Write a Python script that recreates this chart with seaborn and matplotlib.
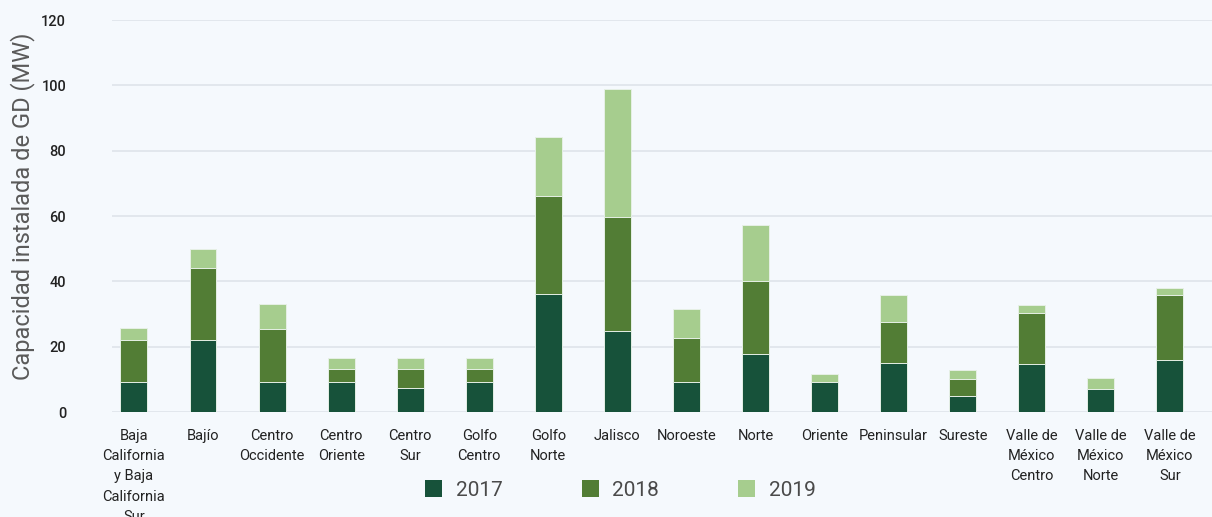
import matplotlib
matplotlib.use("Agg")
import matplotlib.pyplot as plt
from matplotlib.patches import Patch
import numpy as np
import pandas as pd
import seaborn as sns

regiones = [
    "Baja\nCalifornia\ny Baja\nCalifornia\nSur", "Bajío", "Centro\nOccidente",
    "Centro\nOriente", "Centro\nSur", "Golfo\nCentro", "Golfo\nNorte", "Jalisco",
    "Noroeste", "Norte", "Oriente", "Peninsular", "Sureste",
    "Valle de\nMéxico\nCentro", "Valle de\nMéxico\nNorte", "Valle de\nMéxico\nSur",
]
mw_2017 = [9.3, 22.1, 9.3, 9.3, 7.4, 9.3, 36.0, 24.8, 9.3, 17.8, 9.3, 15.1, 5.0, 14.8, 6.9, 15.9]
mw_2018 = [12.8, 21.9, 16.0, 3.9, 5.8, 3.9, 30.2, 35.0, 13.4, 22.4, 0.0, 12.5, 5.0, 15.4, 0.0, 19.8]
mw_2019 = [3.6, 6.0, 7.9, 3.3, 3.3, 3.3, 17.9, 39.0, 8.7, 16.9, 2.2, 8.1, 3.0, 2.7, 3.4, 2.3]
anios = ["2017", "2018", "2019"]
colores = ["#17523a", "#527d35", "#a6cd8e"]
yticks = [0, 20, 40, 60, 80, 100, 120]

df = pd.DataFrame({"region": regiones, "2017": mw_2017, "2018": mw_2018, "2019": mw_2019})
df["hasta_2018"] = df["2017"] + df["2018"]
df["hasta_2019"] = df["hasta_2018"] + df["2019"]

bg = "#f5f9fd"
sns.set_theme(style="white")
plt.rcParams["font.family"] = ["Roboto", "DejaVu Sans"]

fig = plt.figure(figsize=(12.12, 5.17), dpi=100, facecolor=bg)
ax = fig.add_axes([112 / 1212, 1 - 412 / 517, 1 - 112 / 1212, (412 - 20) / 517])
ax.set_facecolor(bg)

# stacked bars: cumulative totals drawn from the top segment down
for col, color in zip(["hasta_2019", "hasta_2018", "2017"], colores[::-1]):
    sns.barplot(data=df, x="region", y=col, color=color, width=0.39,
                edgecolor="#e6f0e6", linewidth=0.7, saturation=1, ax=ax, zorder=3)

ax.set_ylim(0, 120)
ax.set_xlim(-0.318, 15.61)
ax.set_yticks(yticks)
ax.set_yticklabels([str(v) for v in yticks])
ax.grid(axis="y", color="#dfe4ea", linewidth=1.2, zorder=0)
ax.set_axisbelow(True)
for s in ax.spines.values():
    s.set_visible(False)

ax.tick_params(axis="y", length=0, pad=33, labelsize=10.5, labelcolor="#222222")
ax.tick_params(axis="x", length=0, pad=12.5, labelsize=10.5, labelcolor="#222222")
for lab in ax.get_yticklabels():
    lab.set_fontweight("medium")
for lab in ax.get_xticklabels():
    lab.set_linespacing(1.55)
    lab.set_verticalalignment("top")

ax.set_xlabel("")
ax.set_ylabel("Capacidad instalada de GD (MW)", fontsize=17, color="#5a5a5a")
ax.yaxis.set_label_coords(-0.07, 0.525)

handles = [Patch(facecolor=c, edgecolor="none", label=a) for a, c in zip(anios, colores)]
fig.legend(handles=handles, loc="center", bbox_to_anchor=(0.512, 0.052), ncol=3,
           frameon=False, fontsize=15, handlelength=0.82, handleheight=0.82,
           handletextpad=0.65, columnspacing=3.8, labelcolor="#4a4a4a")

fig.savefig("out.png", dpi=100, facecolor=bg)
